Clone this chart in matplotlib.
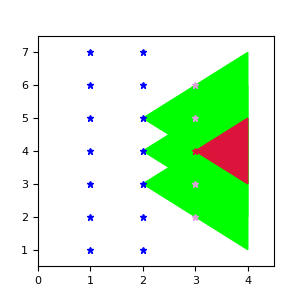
import matplotlib
matplotlib.use("Agg")
import matplotlib.pyplot as plt

# star columns
blue_x = [1, 1, 1, 1, 1, 1, 1, 2, 2, 2, 2, 2, 2, 2]
blue_y = [1, 2, 3, 4, 5, 6, 7, 1, 2, 3, 4, 5, 6, 7]
plum_x = [3, 3, 3, 3]
plum_y = [2, 3, 5, 6]
red_star = (3, 4)

# green triangles: apex, top-right, bottom-right
green_tris = [
    [(2, 5), (4, 7), (4, 3)],
    [(2, 4), (4, 6), (4, 2)],
    [(2, 3), (4, 5), (4, 1)],
]
red_tri = [(3, 4), (4, 5), (4, 3)]

fig = plt.figure(figsize=(3.05, 3.05), dpi=100)
ax = fig.add_axes([38 / 305, 39 / 305, 236 / 305, 230 / 305])

for tri in green_tris:
    ax.fill([p[0] for p in tri], [p[1] for p in tri], color='lime', zorder=1)
ax.fill([p[0] for p in red_tri], [p[1] for p in red_tri], color='crimson', zorder=2)

ax.plot(blue_x, blue_y, '*', color='blue', markersize=5, zorder=3)
ax.plot(plum_x, plum_y, '*', color='plum', markersize=5, zorder=3)
ax.plot([red_star[0]], [red_star[1]], '*', color='crimson', markersize=5, zorder=3)

ax.set_xlim(0, 4.5)
ax.set_ylim(0.5, 7.5)
ax.set_xticks([0, 1, 2, 3, 4])
ax.set_yticks([1, 2, 3, 4, 5, 6, 7])
ax.tick_params(labelsize=8)

fig.savefig("out.png", dpi=100)
